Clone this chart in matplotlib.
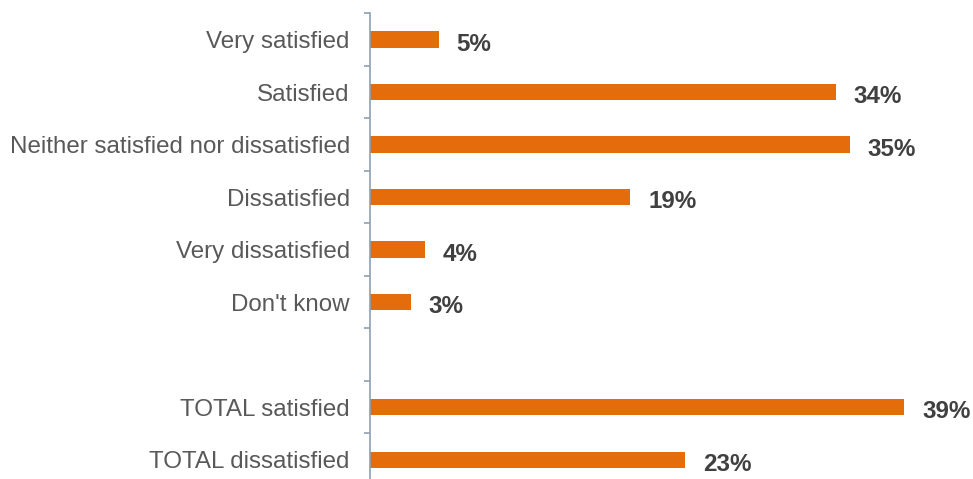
import matplotlib.pyplot as plt

categories = ["Very satisfied", "Satisfied", "Neither satisfied nor dissatisfied",
              "Dissatisfied", "Very dissatisfied", "Don't know", "",
              "TOTAL satisfied", "TOTAL dissatisfied"]
values = [5, 34, 35, 19, 4, 3, None, 39, 23]

plt.rcParams['font.family'] = ['Liberation Sans', 'DejaVu Sans']

fig = plt.figure(figsize=(9.73, 4.79), dpi=100)
# axes spills a little below the figure, like the original crop
ax = fig.add_axes([370/973, -7/479, 603/973, 472.75/479])

n = len(categories)
ypos = list(range(n))
for y, v in zip(ypos, values):
    if v is None:
        continue
    ax.barh(y, v, height=0.31, color='#E46C0A')
    ax.text(v + 1.3, y + 0.04, f"{v}%", va='center_baseline', ha='left',
            fontsize=17.4, fontweight='bold', color='#404040')

ax.set_ylim(n - 0.5, -0.5)
ax.set_xlim(0, 44)

# category labels at centres, tick marks at slot boundaries
ax.set_yticks(ypos)
ax.set_yticklabels(categories, fontsize=17.4, color='#595959')
ax.tick_params(axis='y', which='major', length=0, pad=14.5)
ax.set_yticks([i - 0.5 for i in range(n + 1)], minor=True)
ax.tick_params(axis='y', which='minor', length=4, width=1.2, color='#8EA0B4')

ax.set_xticks([])
for s in ['top', 'right', 'bottom']:
    ax.spines[s].set_visible(False)
ax.spines['left'].set_color('#8EA0B4')
ax.spines['left'].set_linewidth(1.2)

fig.savefig('out.png', dpi=100)
